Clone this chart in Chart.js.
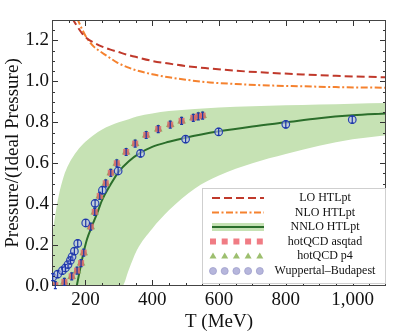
<!DOCTYPE html>
<html>
<head>
<meta charset="utf-8">
<script src="https://cdn.jsdelivr.net/npm/chart.js@4.4.1/dist/chart.umd.min.js"></script>
<style>
  body { margin: 0; background: #fff; }
  canvas { display: block; }
</style>
</head>
<body>
<canvas id="pressureChart" width="409" height="336"></canvas>
<script>
// tick labels
const xTicks = [200, 400, 600, 800, 1000];
const yTicks = [0, 0.2, 0.4, 0.6, 0.8, 1.0, 1.2];

// LO HTLpt
const loT = [160, 175, 190, 205, 225, 250, 275, 294, 325, 350, 400, 450, 500, 573, 650, 750, 850, 950, 1100];
const loP = [1.31, 1.27, 1.235, 1.21, 1.19, 1.17, 1.155, 1.146, 1.13, 1.12, 1.10, 1.087, 1.075, 1.063, 1.052, 1.042, 1.034, 1.027, 1.02];

// NLO HTLpt
const nloT = [175, 190, 205, 225, 250, 275, 294, 325, 350, 400, 450, 500, 573, 650, 750, 850, 950, 1100];
const nloP = [1.31, 1.255, 1.21, 1.17, 1.14, 1.113, 1.093, 1.07, 1.055, 1.035, 1.02, 1.008, 0.995, 0.987, 0.98, 0.976, 0.972, 0.969];

// NNLO HTLpt central line
const nnloT = [174, 185, 194, 205, 219, 235, 250, 275, 299, 330, 363, 400, 450, 500, 600, 700, 800, 900, 1000, 1100];
const nnloP = [0, 0.09, 0.16, 0.23, 0.29, 0.355, 0.42, 0.495, 0.557, 0.61, 0.649, 0.68, 0.705, 0.725, 0.756, 0.78, 0.80, 0.82, 0.834, 0.843];

// NNLO band edges
const bandT = [100, 110, 120, 135, 150, 175, 200, 250, 300, 310, 330, 354, 400, 450, 528, 600, 700, 800, 900, 1000, 1100];
const bandHi = [0.24, 0.35, 0.44, 0.535, 0.595, 0.66, 0.705, 0.765, 0.80, 0.805, 0.815, 0.828, 0.843, 0.855, 0.865, 0.872, 0.878, 0.883, 0.887, 0.891, 0.894];
const bandLo = [0, 0, 0, 0, 0, 0, 0, 0, 0, 0, 0.08, 0.175, 0.28, 0.37, 0.477, 0.54, 0.60, 0.645, 0.685, 0.717, 0.737];

// lattice: hotQCD
const hotT = [110, 137, 159, 175, 187, 195, 216, 228, 243, 261, 276, 294, 322, 349, 382, 418, 454, 488, 523, 538, 551];
const asqtadP = [0.004, 0.02, 0.047, 0.075, 0.112, 0.163, 0.29, 0.362, 0.44, 0.502, 0.553, 0.60, 0.655, 0.696, 0.738, 0.767, 0.789, 0.807, 0.822, 0.829, 0.833];
const p4P = [0.004, 0.02, 0.047, 0.075, 0.112, 0.163, 0.29, 0.362, 0.44, 0.502, 0.553, 0.60, 0.655, 0.696, 0.738, 0.767, 0.789, 0.807, 0.822, 0.829, 0.833];

// lattice: Wuppertal-Budapest
const wbT = [102, 117, 131, 140, 148, 155, 160, 167, 177, 201, 229, 251, 298, 365, 500, 599, 800, 999];
const wbP = [0.043, 0.058, 0.075, 0.088, 0.105, 0.125, 0.143, 0.17, 0.208, 0.308, 0.404, 0.468, 0.562, 0.648, 0.718, 0.753, 0.79, 0.813];

const serif = '"Liberation Serif", "DejaVu Serif", serif';
const toXY = (xs, ys) => xs.map((x, i) => ({ x: x, y: ys[i] }));

// inward ticks + frame
const framePlugin = {
    id: 'frame',
    afterDatasetsDraw(chart) {
        const { ctx, chartArea: a, scales: { x, y } } = chart;
        ctx.save();
        ctx.strokeStyle = '#333';
        ctx.lineWidth = 1;
        ctx.beginPath();
        for (let v = 150; v < 1100; v += 50) {
            const px = Math.round(x.getPixelForValue(v)) + 0.5;
            const len = v % 200 === 0 ? 6 : 3;
            ctx.moveTo(px, a.bottom); ctx.lineTo(px, a.bottom - len);
            ctx.moveTo(px, a.top); ctx.lineTo(px, a.top + len);
        }
        for (let k = 1; k < 26; k++) {
            const v = k * 0.05;
            const py = Math.round(y.getPixelForValue(v)) + 0.5;
            const len = k % 4 === 0 ? 6 : 3;
            ctx.moveTo(a.left, py); ctx.lineTo(a.left + len, py);
            ctx.moveTo(a.right, py); ctx.lineTo(a.right - len, py);
        }
        ctx.stroke();
        ctx.strokeStyle = '#444';
        ctx.strokeRect(a.left + 0.5, a.top + 0.5, a.right - a.left - 1, a.bottom - a.top - 1);
        ctx.restore();
    }
};

// little blue error bars on the lattice points
const errorBarPlugin = {
    id: 'errorBars',
    afterDatasetsDraw(chart) {
        const ctx = chart.ctx;
        ctx.save();
        ctx.strokeStyle = '#1c36a8';
        ctx.lineWidth = 1.2;
        chart.data.datasets.forEach((ds, i) => {
            if (!ds.errBars) return;
            chart.getDatasetMeta(i).data.forEach(pt => {
                ctx.beginPath();
                ctx.moveTo(pt.x, pt.y - 3.5); ctx.lineTo(pt.x, pt.y + 3.5);
                ctx.moveTo(pt.x - 1.5, pt.y - 3.5); ctx.lineTo(pt.x + 1.5, pt.y - 3.5);
                ctx.moveTo(pt.x - 1.5, pt.y + 3.5); ctx.lineTo(pt.x + 1.5, pt.y + 3.5);
                ctx.stroke();
            });
        });
        ctx.restore();
    }
};

// legend box in the lower right
const legendPlugin = {
    id: 'boxLegend',
    afterDraw(chart) {
        const ctx = chart.ctx;
        const bx = 202, by = 188, bw = 183, bh = 95;
        const x0 = 212, x1 = 264, tx = 325;
        const rows = [198, 212.5, 227, 241.5, 256, 271];
        ctx.save();
        ctx.fillStyle = '#fff';
        ctx.fillRect(bx, by, bw, bh);
        ctx.strokeStyle = '#cfcfcf';
        ctx.lineWidth = 1;
        ctx.strokeRect(bx + 0.5, by + 0.5, bw, bh);

        ctx.lineWidth = 2;
        ctx.strokeStyle = '#c0392b';
        ctx.setLineDash([8, 4]);
        ctx.beginPath(); ctx.moveTo(x0, rows[0]); ctx.lineTo(x1, rows[0]); ctx.stroke();
        ctx.strokeStyle = '#f5822f';
        ctx.setLineDash([7, 2.5, 2, 2.5]);
        ctx.beginPath(); ctx.moveTo(x0, rows[1]); ctx.lineTo(x1, rows[1]); ctx.stroke();
        ctx.setLineDash([]);
        ctx.fillStyle = '#c6e2b4';
        ctx.fillRect(x0, rows[2] - 4, x1 - x0, 8);
        ctx.strokeStyle = '#2b6e2b';
        ctx.beginPath(); ctx.moveTo(x0, rows[2]); ctx.lineTo(x1, rows[2]); ctx.stroke();

        for (let k = 0; k < 5; k++) {
            const cx = 213 + k * 11.7;
            ctx.fillStyle = '#f07c84';
            ctx.fillRect(cx - 3, rows[3] - 3, 6, 6);
            ctx.fillStyle = '#9dbf6f';
            ctx.beginPath();
            ctx.moveTo(cx, rows[4] - 3.5); ctx.lineTo(cx + 3.5, rows[4] + 2.5); ctx.lineTo(cx - 3.5, rows[4] + 2.5);
            ctx.closePath(); ctx.fill();
            ctx.fillStyle = '#b6b6dc';
            ctx.strokeStyle = '#a0a0cc';
            ctx.lineWidth = 0.8;
            ctx.beginPath(); ctx.arc(cx, rows[5], 3.5, 0, Math.PI * 2); ctx.fill(); ctx.stroke();
        }

        ctx.fillStyle = '#111';
        ctx.font = '12px ' + serif;
        ctx.textAlign = 'center';
        ctx.textBaseline = 'middle';
        ['LO HTLpt', 'NLO HTLpt', 'NNLO HTLpt', 'hotQCD asqtad', 'hotQCD p4', 'Wuppertal\u2013Budapest']
            .forEach((t, i) => ctx.fillText(t, tx, rows[i]));
        ctx.restore();
    }
};

new Chart(document.getElementById('pressureChart'), {
    type: 'scatter',
    data: {
        datasets: [
            {
                label: 'band upper',
                data: toXY(bandT, bandHi),
                showLine: true, pointRadius: 0, borderWidth: 0,
                backgroundColor: '#c6e2b4',
                fill: 1, cubicInterpolationMode: 'monotone', order: 10
            },
            {
                label: 'band lower',
                data: toXY(bandT, bandLo),
                showLine: true, pointRadius: 0, borderWidth: 0,
                fill: false, cubicInterpolationMode: 'monotone', order: 11
            },
            {
                label: 'NNLO HTLpt',
                data: toXY(nnloT, nnloP),
                showLine: true, pointRadius: 0, borderWidth: 2,
                borderColor: '#2b6e2b', cubicInterpolationMode: 'monotone', order: 6
            },
            {
                label: 'NLO HTLpt',
                data: toXY(nloT, nloP),
                showLine: true, pointRadius: 0, borderWidth: 2,
                borderColor: '#f5822f', borderDash: [7, 2.5, 2, 2.5],
                cubicInterpolationMode: 'monotone', order: 5
            },
            {
                label: 'LO HTLpt',
                data: toXY(loT, loP),
                showLine: true, pointRadius: 0, borderWidth: 2,
                borderColor: '#c0392b', borderDash: [8, 4],
                cubicInterpolationMode: 'monotone', order: 4
            },
            {
                label: 'hotQCD asqtad',
                data: toXY(hotT, asqtadP),
                pointStyle: 'rect', pointRadius: 4.3, borderWidth: 0,
                backgroundColor: 'rgba(225,100,110,0.8)', order: 2
            },
            {
                label: 'hotQCD p4',
                data: toXY(hotT, p4P),
                pointStyle: 'triangle', pointRadius: 5, borderWidth: 0,
                backgroundColor: 'rgba(120,170,80,0.85)', order: 3, errBars: true
            },
            {
                label: 'Wuppertal-Budapest',
                data: toXY(wbT, wbP),
                pointStyle: 'circle', pointRadius: 3.8, borderWidth: 1.2,
                borderColor: '#2a44b0', backgroundColor: 'rgba(190,195,240,0.6)',
                order: 1, errBars: true
            }
        ]
    },
    options: {
        responsive: false,
        animation: false,
        devicePixelRatio: 1,
        layout: { padding: { left: 0, right: 23, top: 20, bottom: 0 } },
        plugins: { legend: { display: false }, tooltip: { enabled: false } },
        scales: {
            x: {
                type: 'linear', min: 100, max: 1100,
                afterBuildTicks: s => { s.ticks = xTicks.map(v => ({ value: v })); },
                afterFit: s => { s.height = 50; },
                grid: { display: false, drawTicks: false },
                border: { display: false },
                ticks: { padding: 3, color: '#111', font: { family: serif, size: 19 } },
                title: {
                    display: true, text: 'T (MeV)', color: '#111',
                    font: { family: serif, size: 19 }, padding: { top: 0, bottom: 3 }
                }
            },
            y: {
                type: 'linear', min: 0, max: 1.3,
                afterBuildTicks: s => { s.ticks = yTicks.map(v => ({ value: v })); },
                afterFit: s => { s.width = 52; },
                grid: { display: false, drawTicks: false },
                border: { display: false },
                ticks: {
                    padding: 3, color: '#111', font: { family: serif, size: 19 },
                    callback: v => v.toFixed(1)
                },
                title: {
                    display: true, text: 'Pressure/(Ideal Pressure)', color: '#111',
                    font: { family: serif, size: 19 }, padding: { top: 2, bottom: 0 }
                }
            }
        }
    },
    plugins: [framePlugin, errorBarPlugin, legendPlugin]
});
</script>
</body>
</html>
